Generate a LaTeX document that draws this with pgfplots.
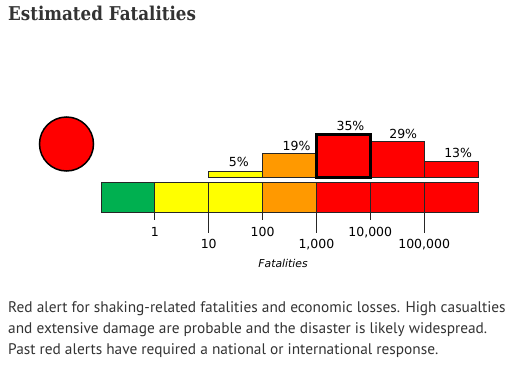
\documentclass[border=0pt]{standalone}
\usepackage{pgfplots}
\pgfplotsset{compat=1.18}
\usepackage{fontspec}
\setmainfont{PT Sans}
\newfontfamily\titlefont{DejaVu Serif}
\newfontfamily\chartfont{DejaVu Sans}
\definecolor{pgreen}{RGB}{0,176,80}
\definecolor{pyellow}{RGB}{255,255,0}
\definecolor{porange}{RGB}{255,153,0}
\definecolor{pred}{RGB}{255,0,0}
\definecolor{txt}{RGB}{51,51,51}
\tikzset{lbl/.style={inner sep=0pt, text=black, font=\chartfont\fontsize{12.5bp}{14bp}\selectfont}}
\begin{document}
\begin{tikzpicture}
\path[use as bounding box] (0,0) rectangle (518bp,-368bp);
% title
\node[anchor=base west, inner sep=0pt, text=txt] at (8bp,-20bp)
  {\scalebox{0.88}[1]{\titlefont\bfseries\fontsize{19bp}{22bp}\selectfont Estimated Fatalities}};
% alert circle
\draw[line width=1.5bp, fill=pred] (66.5bp,-144bp) circle (27bp);
\begin{axis}[
  at={(101bp,-233.12bp)}, anchor=south west,
  scale only axis, width=377bp, height=104.92bp,
  xmin=0, xmax=7, ymin=-46, ymax=40,
  axis lines=none, clip=false,
]
% colour scale bar
\addplot[draw=black!85, line width=0.8bp, fill=pgreen]  coordinates {(0,-4.1) (1,-4.1) (1,-28.7) (0,-28.7)} --cycle;
\addplot[draw=black!85, line width=0.8bp, fill=pyellow] coordinates {(1,-4.1) (2,-4.1) (2,-28.7) (1,-28.7)} --cycle;
\addplot[draw=black!85, line width=0.8bp, fill=pyellow] coordinates {(2,-4.1) (3,-4.1) (3,-28.7) (2,-28.7)} --cycle;
\addplot[draw=black!85, line width=0.8bp, fill=porange] coordinates {(3,-4.1) (4,-4.1) (4,-28.7) (3,-28.7)} --cycle;
\addplot[draw=black!85, line width=0.8bp, fill=pred]    coordinates {(4,-4.1) (5,-4.1) (5,-28.7) (4,-28.7)} --cycle;
\addplot[draw=black!85, line width=0.8bp, fill=pred]    coordinates {(5,-4.1) (6,-4.1) (6,-28.7) (5,-28.7)} --cycle;
\addplot[draw=black!85, line width=0.8bp, fill=pred]    coordinates {(6,-4.1) (7,-4.1) (7,-28.7) (6,-28.7)} --cycle;
% probability histogram
\addplot[draw=black!85, line width=0.8bp, fill=pyellow] coordinates {(2,0) (2,5) (3,5) (3,0)} --cycle;
\addplot[draw=black!85, line width=0.8bp, fill=porange] coordinates {(3,0) (3,19) (4,19) (4,0)} --cycle;
\addplot[draw=black!85, line width=0.8bp, fill=pred]    coordinates {(5,0) (5,29) (6,29) (6,0)} --cycle;
\addplot[draw=black!85, line width=0.8bp, fill=pred]    coordinates {(6,0) (6,13) (7,13) (7,0)} --cycle;
\addplot[draw=black, line width=3bp, fill=pred]         coordinates {(4,0) (4,35) (5,35) (5,0)} --cycle;
% percent labels
\node[lbl, anchor=base west] at (axis cs:2.37,5)  [yshift=4bp] {5\%};
\node[lbl, anchor=base west] at (axis cs:3.37,19) [yshift=3.5bp] {19\%};
\node[lbl, anchor=base west] at (axis cs:4.37,35) [yshift=4bp] {35\%};
\node[lbl, anchor=base west] at (axis cs:5.35,29) [yshift=3.5bp] {29\%};
\node[lbl, anchor=base west] at (axis cs:6.37,13) [yshift=4bp] {13\%};
% ticks
\draw[black!85, line width=0.9bp] (axis cs:1,-28.7) -- (axis cs:1,-35.2);
\draw[black!85, line width=0.9bp] (axis cs:2,-28.7) -- (axis cs:2,-45.9);
\draw[black!85, line width=0.9bp] (axis cs:3,-28.7) -- (axis cs:3,-35.2);
\draw[black!85, line width=0.9bp] (axis cs:4,-28.7) -- (axis cs:4,-45.9);
\draw[black!85, line width=0.9bp] (axis cs:5,-28.7) -- (axis cs:5,-35.2);
\draw[black!85, line width=0.9bp] (axis cs:6,-28.7) -- (axis cs:6,-45.9);
\node[lbl, anchor=base] at (axis cs:1,-48.4) {1};
\node[lbl, anchor=base] at (axis cs:3,-48.4) {100};
\node[lbl, anchor=base] at (axis cs:5,-48.4) {10,000};
\node[lbl, anchor=base] at (axis cs:2,-59.0) {10};
\node[lbl, anchor=base] at (axis cs:4,-59.0) {1,000};
\node[lbl, anchor=base] at (axis cs:6,-59.0) {100,000};
\node[lbl, anchor=base, font=\chartfont\itshape\fontsize{10.8bp}{12bp}\selectfont] at (axis cs:3.38,-73.8) {Fatalities};
\end{axis}
% description
\begin{scope}[every node/.style={anchor=base west, inner sep=0pt, text=txt, font=\fontsize{15.35bp}{21bp}\selectfont}]
\node at (8bp,-312bp) {Red alert for shaking-related fatalities and economic losses. High casualties};
\node at (8bp,-333bp) {and extensive damage are probable and the disaster is likely widespread.};
\node at (8bp,-354bp) {Past red alerts have required a national or international response.};
\end{scope}
\end{tikzpicture}
\end{document}
